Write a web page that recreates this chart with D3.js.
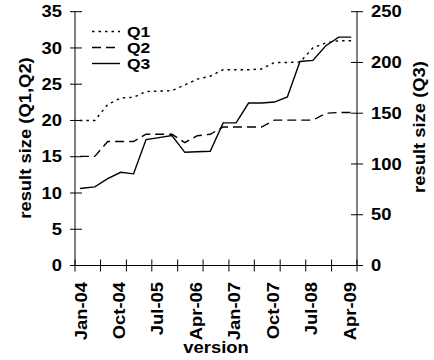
<!DOCTYPE html>
<html><head><meta charset="utf-8">
<script src="https://cdn.jsdelivr.net/npm/d3@7"></script>
<style>html,body{margin:0;padding:0;background:#fff}svg{display:block}</style>
</head><body>
<svg id="c" width="434" height="360"></svg>
<script>
const versions = ["2004-02-05","2004-05-21","2004-08-21","2004-11-21","2005-02-21","2005-05-21","2005-08-21","2005-11-21","2006-02-21","2006-05-21","2006-08-21","2006-11-21","2007-02-21","2007-05-21","2007-08-21","2007-11-21","2008-02-21","2008-05-21","2008-08-21","2008-11-21","2009-02-21","2009-05-21"];
const q1 = [20,20,22.2,23.1,23.2,24.0,24.05,24.1,24.9,25.7,26.1,27.0,27.0,27.0,27.1,28.0,28.0,28.05,30.0,30.7,31.0,31.0];
const q2 = [15.05,15.05,17.1,17.1,17.1,18.1,18.1,18.1,16.95,17.9,18.1,19.1,19.1,19.1,19.1,20.05,20.05,20.05,20.05,21.0,21.1,21.1];
const q3 = [75.8,77.5,85.6,91.8,90.3,124,126,128,111.5,112,112.5,140.5,140.5,160,160,161,166,201,202,216.5,225,225];
const xTickDates = ["2004-01-01","2004-07-01","2005-01-01","2005-07-01","2006-01-01","2006-07-01","2007-01-01","2007-07-01","2008-01-01","2008-07-01","2009-01-01","2009-07-01"];
const xLabelDates = ["2004-01-01","2004-10-01","2005-07-01","2006-04-01","2007-01-01","2007-10-01","2008-07-01","2009-04-01"];
const xLabels = ["Jan-04","Oct-04","Jul-05","Apr-06","Jan-07","Oct-07","Jul-08","Apr-09"];
const leftTicks = [0,5,10,15,20,25,30,35];
const rightTicks = [0,50,100,150,200,250];
const seriesNames = ["Q1","Q2","Q3"];

const parse = d3.utcParse("%Y-%m-%d");
const svg = d3.select("#c");
const FONT = "'Liberation Sans', Arial, Helvetica, sans-serif";
const x = d3.scaleUtc().domain([parse("2004-01-01"), parse("2009-07-01")]).range([75, 357]);
const yL = d3.scaleLinear().domain([0, 35]).range([265.5, 11.7]);
const yR = d3.scaleLinear().domain([0, 250]).range([265.5, 11.7]);

function txt(px, py, s, anchor, rot, size, sx) {
  svg.append("text")
    .attr("transform", `translate(${px},${py})${rot ? " rotate(-90)" : ""} scale(${sx || 1.15},1)`)
    .attr("text-anchor", anchor)
    .attr("font-family", FONT).attr("font-weight", "bold")
    .attr("font-size", size || 16).attr("fill", "#000")
    .text(s);
}

const ax = svg.append("g").attr("stroke", "#000").attr("stroke-width", 1).attr("fill", "none");
ax.append("line").attr("x1", x.range()[0]).attr("x2", x.range()[0]).attr("y1", yL(0)).attr("y2", yL(35));
ax.append("line").attr("x1", x.range()[1]).attr("x2", x.range()[1]).attr("y1", yR(0)).attr("y2", yR(250));
ax.append("line").attr("x1", x.range()[0] - 4).attr("x2", x.range()[1]).attr("y1", yL(0)).attr("y2", yL(0));
leftTicks.forEach(v => {
  ax.append("line").attr("x1", x.range()[0] - 5).attr("x2", x.range()[0] + 7).attr("y1", yL(v)).attr("y2", yL(v));
  txt(62, yL(v) + 5.6, String(v), "end");
});
rightTicks.forEach(v => {
  ax.append("line").attr("x1", x.range()[1] - 6).attr("x2", x.range()[1] + 6).attr("y1", yR(v)).attr("y2", yR(v));
  txt(371, yR(v) + 5.6, String(v), "start");
});
xTickDates.forEach(d => {
  const px = x(parse(d));
  ax.append("line").attr("x1", px).attr("x2", px).attr("y1", yL(0) - 6).attr("y2", yL(0) + 6);
});
xLabelDates.forEach((d, i) => {
  txt(x(parse(d)) + 11.5, 282, xLabels[i], "end", true);
});
txt(216, 353, "version", "middle");
txt(31, 138, "result size (Q1,Q2)", "middle", true);
txt(425, 127, "result size (Q3)", "middle", true);

const dates = versions.map(parse);
const styles = [{dash: "2.5,4"}, {dash: "9,5"}, {dash: null}];
const lineL = d3.line().x((d, i) => x(dates[i])).y(d => yL(d));
const lineR = d3.line().x((d, i) => x(dates[i])).y(d => yR(d));
[[q1, lineL], [q2, lineL], [q3, lineR]].forEach(([vals, gen], k) => {
  svg.append("path").attr("d", gen(vals)).attr("fill", "none").attr("stroke", "#000")
    .attr("stroke-width", 1.4).attr("stroke-dasharray", styles[k].dash);
});
seriesNames.forEach((n, k) => {
  const by = 37 + k * 16;
  svg.append("line").attr("x1", 92).attr("x2", 120).attr("y1", by - 5.5).attr("y2", by - 5.5)
    .attr("stroke", "#000").attr("stroke-width", 1.4).attr("stroke-dasharray", styles[k].dash);
  txt(127, by, n, "start", false, 14, 1.25);
});
</script>
</body></html>
